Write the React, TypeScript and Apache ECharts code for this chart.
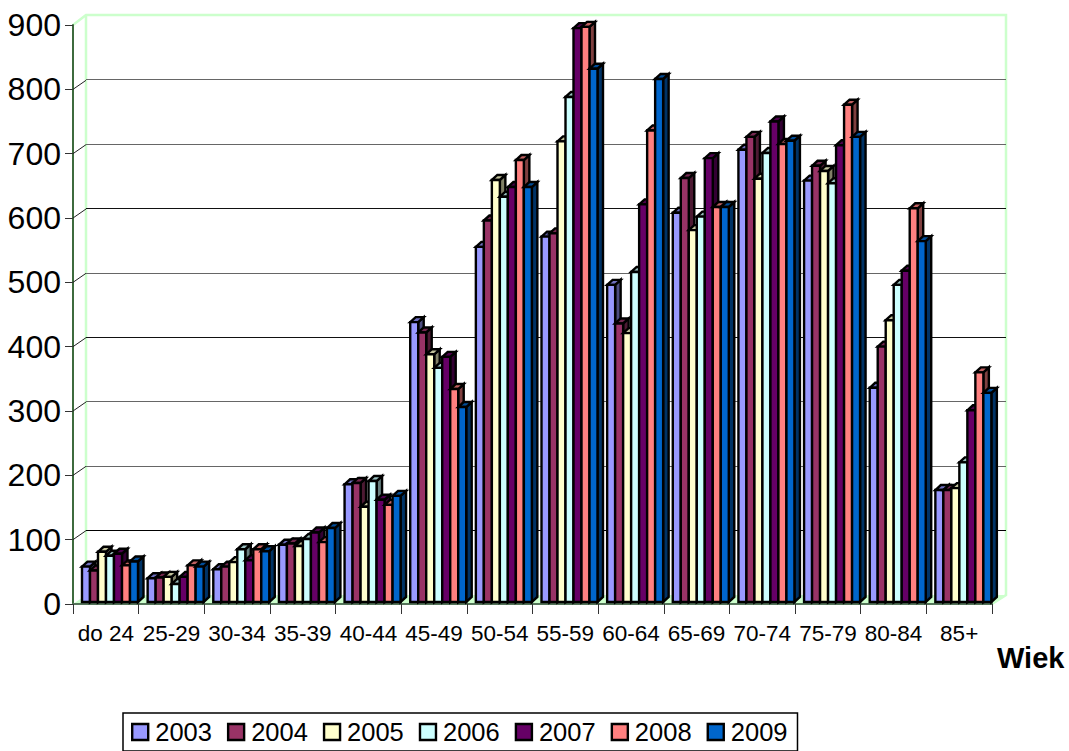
import React, { useEffect, useRef } from "react";
import * as echarts from "echarts";

const ageGroups = ["do 24", "25-29", "30-34", "35-39", "40-44", "45-49", "50-54", "55-59", "60-64", "65-69", "70-74", "75-79", "80-84", "85+"];
const years = ["2003", "2004", "2005", "2006", "2007", "2008", "2009"];
const values2003 = [55, 37, 51, 89, 183, 435, 552, 568, 493, 605, 703, 655, 333, 174];
const values2004 = [49, 38, 55, 91, 185, 419, 593, 573, 433, 659, 723, 678, 397, 174];
const values2005 = [78, 39, 62, 87, 148, 385, 656, 716, 418, 578, 658, 670, 438, 177];
const values2006 = [72, 28, 82, 98, 188, 364, 630, 785, 513, 599, 698, 651, 493, 217];
const values2007 = [75, 39, 65, 108, 159, 381, 645, 892, 618, 690, 747, 710, 515, 298];
const values2008 = [57, 57, 82, 93, 151, 331, 687, 894, 733, 614, 712, 773, 612, 357];
const values2009 = [63, 55, 79, 115, 165, 303, 645, 829, 813, 614, 717, 723, 561, 325];
const allValues = [values2003, values2004, values2005, values2006, values2007, values2008, values2009];
const faceColors = ["#9999ff", "#993366", "#ffffcc", "#ccffff", "#660066", "#ff8080", "#0066cc"];
const sideColors = ["#4d4d80", "#4d1a33", "#808066", "#668080", "#330033", "#804040", "#003366"];
const topColors = ["#7070c0", "#742850", "#c0c09a", "#9ac0c0", "#4d004d", "#c06060", "#004d99"];
const tickValues = [100, 200, 300, 400, 500, 600, 700, 800];
// Tone of each back-wall line, from 0 up to 900.
const wallLineTones = ["#000", "#666", "#666", "#111", "#666", "#111", "#666", "#666", "#111", "#000"];

const FONT = '"Liberation Sans", Arial, sans-serif';
const BAR_W = 8;
const DEPTH_X = 5.5;
const DEPTH_Y = 5;
const WALL_GREEN = "#ccffcc";

export default function App() {
  const ref = useRef<HTMLDivElement>(null);

  useEffect(() => {
    const chart = echarts.init(ref.current!, undefined, { renderer: "svg" });

    // One 3D-looking column: side and top faces first, the front face above them.
    const columnRenderer = (s: number) => (_: any, api: any) => {
      const [cx, cy] = api.coord([api.value(0), api.value(1)]);
      const band = api.size([1, 0])[0];
      const x = cx - band / 2 + 9 + s * BAR_W;
      const y = cy - 2;
      const y0 = api.coord([0, 0])[1] - 2;
      const outline = { stroke: "#000", lineWidth: 2.4, lineJoin: "miter" };
      return {
        type: "group",
        children: [
          {
            type: "polygon",
            shape: { points: [[x + BAR_W, y], [x + BAR_W + DEPTH_X, y - DEPTH_Y], [x + BAR_W + DEPTH_X, y0 - DEPTH_Y], [x + BAR_W, y0]] },
            style: { fill: sideColors[s], ...outline },
          },
          {
            type: "polygon",
            shape: { points: [[x, y], [x + DEPTH_X, y - DEPTH_Y], [x + BAR_W + DEPTH_X, y - DEPTH_Y], [x + BAR_W, y]] },
            style: { fill: topColors[s], ...outline },
          },
          {
            type: "rect",
            shape: { x, y, width: BAR_W, height: y0 - y },
            style: { fill: faceColors[s], ...outline },
          },
        ],
      };
    };

    // Short slanted link from each value tick on the front axis to its line on the back wall.
    const linkRenderer = (_: any, api: any) => {
      const [x, y] = api.coord([0, api.value(0)]);
      const left = x - api.size([1, 0])[0] / 2;
      return {
        type: "line",
        shape: { x1: left, y1: y, x2: left + 13, y2: y - 9 },
        style: { stroke: "#222", lineWidth: 1 },
      };
    };

    chart.setOption({
      animation: false,
      backgroundColor: "#fff",
      textStyle: { fontFamily: FONT },
      grid: [
        { left: 73, right: 77, top: 25, bottom: 147 },
        { left: 86, right: 63, top: 15, bottom: 156 },
      ],
      xAxis: [
        {
          type: "category",
          gridIndex: 0,
          data: ageGroups,
          name: "Wiek",
          nameLocation: "end",
          nameGap: 5,
          nameTextStyle: { fontFamily: FONT, fontSize: 29, fontWeight: "bold", color: "#000", align: "left", verticalAlign: "top", padding: [39, 0, 0, 0] },
          axisLine: { show: true, lineStyle: { color: "#55755a", width: 2 } },
          axisTick: { show: true, length: 10, lineStyle: { color: "#333", width: 1 } },
          axisLabel: { fontFamily: FONT, fontSize: 22.5, color: "#000", margin: 18, interval: 0 },
        },
        { type: "value", gridIndex: 1, min: 0, max: 1, show: false },
      ],
      yAxis: [
        {
          type: "value",
          gridIndex: 0,
          min: 0,
          max: 900,
          interval: 100,
          axisLine: { show: true, lineStyle: { color: "#3d6b3d", width: 2 } },
          axisTick: { show: true, length: 8, lineStyle: { color: "#333", width: 1 } },
          axisLabel: { fontFamily: FONT, fontSize: 32, color: "#000", margin: 12 },
          splitLine: { show: false },
        },
        {
          type: "value",
          gridIndex: 1,
          min: 0,
          max: 900,
          interval: 100,
          axisLine: { show: false },
          axisTick: { show: false },
          axisLabel: { show: false },
          splitLine: {
            show: true,
            showMinLine: false,
            showMaxLine: false,
            lineStyle: { width: 1, color: wallLineTones },
          },
        },
      ],
      legend: {
        left: 123,
        top: 713,
        orient: "horizontal",
        padding: [6, 10, 6, 8],
        itemGap: 15,
        itemWidth: 16,
        itemHeight: 16,
        borderColor: "#000",
        borderWidth: 1.5,
        textStyle: { fontFamily: FONT, fontSize: 25.5, color: "#000", padding: [0, 0, 0, 2] },
        data: years.map((name, i) => ({
          name,
          icon: "rect",
          itemStyle: { color: faceColors[i], borderColor: "#000", borderWidth: 2.4 },
        })),
      },
      // Floor and back wall outline of the plot box.
      graphic: [
        { type: "polygon", z: 0, silent: true, shape: { points: [[73, 604], [86, 595], [1006, 595], [992, 604]] }, style: { fill: WALL_GREEN } },
        { type: "polyline", z: 0, silent: true, shape: { points: [[73, 25], [86, 15], [1006, 15], [1006, 595], [992, 604]] }, style: { stroke: WALL_GREEN, lineWidth: 2.5, fill: "none" } },
        { type: "line", z: 0, silent: true, shape: { x1: 86, y1: 15, x2: 86, y2: 595 }, style: { stroke: WALL_GREEN, lineWidth: 2.5 } },
      ],
      series: [
        {
          type: "custom",
          name: "links",
          xAxisIndex: 0,
          yAxisIndex: 0,
          silent: true,
          z: 1,
          renderItem: linkRenderer,
          data: tickValues.map((v) => [v]),
          encode: { y: 0 },
        },
        ...years.map((name, s) => ({
          type: "custom",
          name,
          xAxisIndex: 0,
          yAxisIndex: 0,
          silent: true,
          z: 3 + s,
          itemStyle: { color: faceColors[s] },
          renderItem: columnRenderer(s),
          data: allValues[s].map((v, i) => [i, v]),
          encode: { x: 0, y: 1 },
        })),
      ],
    });
    return () => chart.dispose();
  }, []);

  return <div ref={ref} style={{ position: "absolute", left: 0, top: 0, width: 1069, height: 751 }} />;
}
